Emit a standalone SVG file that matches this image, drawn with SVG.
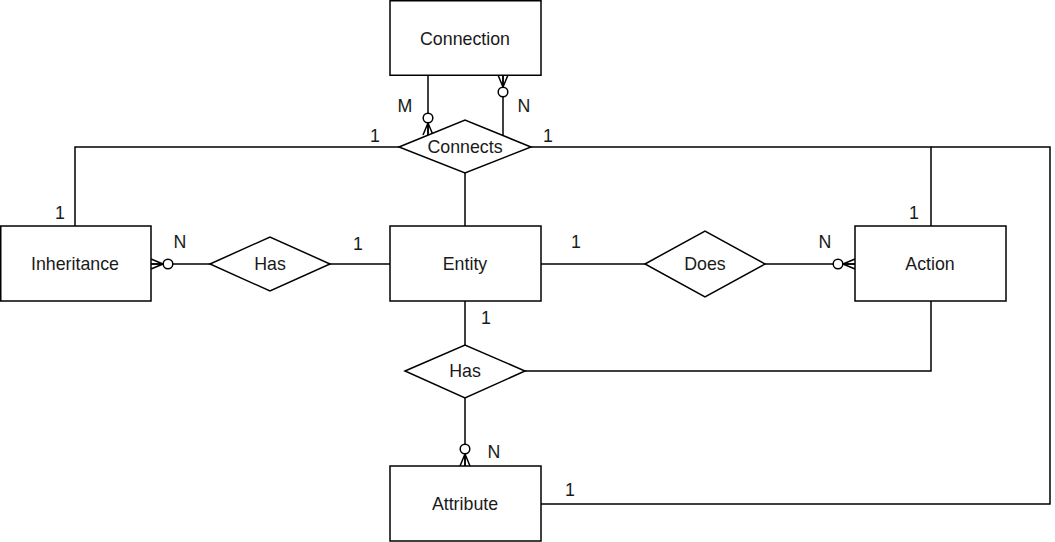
<svg xmlns="http://www.w3.org/2000/svg" width="1055" height="542" viewBox="0 0 1055 542">
<style>
.box{fill:#fff;stroke:#000;stroke-width:1.5}
.t{font-family:"Liberation Sans",Arial,sans-serif;font-size:17.8px;fill:#1a1a1a;text-anchor:middle;dominant-baseline:central}
.e{fill:none;stroke:#000;stroke-width:1.5}
</style>
<defs>
<marker id="zm" markerUnits="userSpaceOnUse" viewBox="-24 -8 26 16" refX="0" refY="0" markerWidth="26" markerHeight="16" orient="auto" overflow="visible">
<path d="M-12,0 L0,-5 M-12,0 L0,5 M-12,0 L0,0" fill="none" stroke="#000" stroke-width="1.5"/>
<circle cx="-17" cy="0" r="4.8" fill="#fff" stroke="#000" stroke-width="1.5"/>
</marker>
</defs>
<g id="connectors">
<path class="e" d="M399,147 H75 V226"/>
<path class="e" d="M531,147 H931 V226"/>
<path class="e" d="M931,147 H1050 V504 H541"/>
<path class="e" d="M465,173 V226"/>
<path class="e" d="M210,264 H151" marker-end="url(#zm)"/>
<path class="e" d="M330,264 H390"/>
<path class="e" d="M541,264 H645"/>
<path class="e" d="M765,264 H855" marker-end="url(#zm)"/>
<path class="e" d="M465,301 V345"/>
<path class="e" d="M465,398 V466" marker-end="url(#zm)"/>
<path class="e" d="M525,371 H931 V301"/>
<path class="e" d="M428,75 V135" marker-end="url(#zm)"/>
<path class="e" d="M503,135 V75" marker-end="url(#zm)"/>
<text class="t" x="405" y="106">M</text>
<text class="t" x="524" y="106">N</text>
<text class="t" x="375" y="136">1</text>
<text class="t" x="548" y="136">1</text>
<text class="t" x="60" y="213">1</text>
<text class="t" x="914" y="213">1</text>
<text class="t" x="180" y="242">N</text>
<text class="t" x="358" y="244">1</text>
<text class="t" x="576" y="242">1</text>
<text class="t" x="825" y="242">N</text>
<text class="t" x="486" y="318">1</text>
<text class="t" x="494" y="452">N</text>
<text class="t" x="570" y="490">1</text>
</g>
<g id="connection"><rect class="box" x="390" y="0.75" width="151" height="74.5"/><text class="t" x="465" y="39">Connection</text></g>
<g id="connects"><polygon class="box" points="399,147 465,120 531,147 465,173"/><text class="t" x="465" y="147">Connects</text></g>
<g id="inheritance"><rect class="box" x="0.75" y="226" width="150.25" height="75"/><text class="t" x="75" y="264">Inheritance</text></g>
<g id="has1"><polygon class="box" points="210,264 270,237 330,264 270,291"/><text class="t" x="270" y="264">Has</text></g>
<g id="entity"><rect class="box" x="390" y="226" width="151" height="75"/><text class="t" x="465" y="264">Entity</text></g>
<g id="does"><polygon class="box" points="645,264 705,231 765,264 705,297"/><text class="t" x="705" y="264">Does</text></g>
<g id="action"><rect class="box" x="855" y="226" width="151" height="75"/><text class="t" x="930" y="264">Action</text></g>
<g id="has2"><polygon class="box" points="405,371 465,345 525,371 465,398"/><text class="t" x="465" y="371">Has</text></g>
<g id="attribute"><rect class="box" x="390" y="466" width="151" height="75"/><text class="t" x="465" y="504">Attribute</text></g>
</svg>
